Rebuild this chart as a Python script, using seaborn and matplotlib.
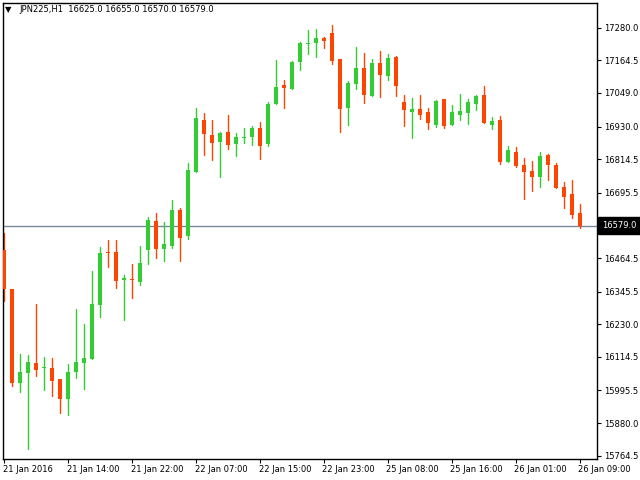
import numpy as np
import pandas as pd
import matplotlib
matplotlib.use("Agg")
import matplotlib.pyplot as plt
import matplotlib.transforms as mtransforms
import seaborn as sns

# ---- data (JPN225, H1) ----
opens = [16493, 16356, 16023, 16058, 16093, 16074, 16075, 16036, 15966, 16062,
         16094, 16108, 16299, 16486, 16486, 16388, 16391, 16381, 16494, 16596,
         16497, 16508, 16634, 16543, 16770, 16953, 16900, 16876, 16911, 16869,
         16890, 16894, 16925, 16869, 17011, 17077, 17064, 17160, 17223, 17227,
         17242, 17261, 17169, 16997, 17082, 17137, 17039, 17155, 17110, 17176,
         17017, 16983, 16992, 16982, 16937, 17028, 16937, 16972, 16979, 17011,
         17042, 16937, 16953, 16806, 16840, 16794, 16773, 16752, 16829, 16794,
         16716, 16691, 16625]
highs = [16554, 16356, 16125, 16121, 16302, 16114, 16110, 16036, 16089, 16284,
         16231, 16418, 16502, 16528, 16528, 16403, 16443, 16507, 16610, 16624,
         16592, 16670, 16640, 16800, 16996, 16978, 16953, 16911, 16971, 16907,
         16925, 16932, 16946, 17017, 17166, 17095, 17162, 17229, 17272, 17275,
         17246, 17290, 17169, 17091, 17212, 17190, 17169, 17198, 17188, 17180,
         17042, 17031, 17042, 16996, 17024, 17028, 17006, 17045, 17028, 17043,
         17075, 16964, 16967, 16861, 16858, 16819, 16808, 16840, 16833, 16801,
         16734, 16741, 16655]
lows = [16313, 16012, 15991, 15789, 16048, 15998, 15977, 15917, 15910, 16041,
        16002, 16108, 16257, 16434, 16359, 16245, 16324, 16370, 16444, 16466,
        16454, 16501, 16455, 16533, 16770, 16830, 16813, 16752, 16852, 16827,
        16873, 16866, 16816, 16862, 17011, 16997, 17064, 17131, 17188, 17177,
        17209, 17153, 16912, 16937, 17064, 17014, 17039, 17036, 17096, 17038,
        16933, 16890, 16958, 16922, 16929, 16926, 16937, 16954, 16940, 16990,
        16944, 16922, 16798, 16806, 16788, 16675, 16703, 16717, 16742, 16713,
        16643, 16607, 16570]
closes = [16356, 16023, 16061, 16096, 16069, 16076, 16030, 15966, 16061, 16096,
          16110, 16302, 16482, 16482, 16384, 16394, 16388, 16447, 16599, 16497,
          16514, 16634, 16536, 16776, 16960, 16905, 16873, 16907, 16866, 16893,
          16893, 16925, 16862, 17010, 17070, 17067, 17159, 17226, 17226, 17244,
          17234, 17163, 16993, 17084, 17137, 17043, 17155, 17114, 17173, 17075,
          16990, 16992, 16972, 16944, 17021, 16933, 16982, 16985, 17017, 17039,
          16944, 16950, 16806, 16847, 16791, 16770, 16752, 16826, 16795, 16713,
          16682, 16618, 16579]

time_tick_pos = [0, 8, 16, 24, 32, 40, 48, 56, 64, 72]
time_tick_labels = ["21 Jan 2016", "21 Jan 14:00", "21 Jan 22:00", "22 Jan 07:00",
                    "22 Jan 15:00", "22 Jan 23:00", "25 Jan 08:00", "25 Jan 16:00",
                    "26 Jan 01:00", "26 Jan 09:00"]
price_ticks = [17280.0, 17164.5, 17049.0, 16930.0, 16814.5, 16695.5, 16464.5,
               16345.5, 16230.0, 16114.5, 15995.5, 15880.0, 15764.5]
last_price = 16579.0
title_text = "JPN225,H1  16625.0 16655.0 16570.0 16579.0"

UP = "#32CD32"
DOWN = "#FF4500"

sns.set_theme(style="white")
plt.rcParams['font.family'] = ['DejaVu Sans']

df = pd.DataFrame({"bar": np.arange(len(opens)), "open": opens, "high": highs,
                   "low": lows, "close": closes})
df["dir"] = np.where(df["close"] >= df["open"], "up", "down")

wicks = pd.concat([
    df[["bar", "dir"]].assign(price=df["low"]),
    df[["bar", "dir"]].assign(price=df["high"]),
]).sort_values(["bar", "price"])

fig = plt.figure(figsize=(6.4, 4.8), dpi=100)
ax = fig.add_axes([2.5 / 640, 21 / 480, (596.7 - 2.5) / 640, (459 - 2.5) / 480])

sns.lineplot(data=wicks, x="bar", y="price", units="bar", estimator=None,
             hue="dir", palette={"up": UP, "down": DOWN}, sort=False,
             linewidth=1.0, legend=False, ax=ax)

body_bottom = np.minimum(df["open"], df["close"])
body_h = np.maximum(np.abs(df["close"] - df["open"]), 3.5)
colors = [UP if d == "up" else DOWN for d in df["dir"]]
ax.bar(df["bar"], body_h, bottom=body_bottom, width=0.62, color=colors,
       linewidth=0, zorder=3)

ax.axhline(last_price, color="#778899", linewidth=1.0, zorder=1)

ax.set_xlim(-0.19, 74.09)
ax.set_ylim(15752.8, 17369.2)

ax.set_xlabel("")
ax.set_ylabel("")
ax.yaxis.tick_right()
ax.set_yticks(price_ticks)
ax.set_yticklabels([f"{v:.1f}" for v in price_ticks])
ax.set_xticks(time_tick_pos)
ax.set_xticklabels(time_tick_labels, ha="left")
ax.tick_params(axis="both", which="both", direction="out", length=3,
               width=0.8, color="black", labelsize=6, labelcolor="black")
ax.tick_params(axis="x", pad=1.5, bottom=True)
ax.tick_params(axis="y", pad=2, right=True, left=False)
offset = mtransforms.ScaledTranslation(-1.5 / 100, 0, fig.dpi_scale_trans)
for lbl in ax.get_xticklabels():
    lbl.set_transform(lbl.get_transform() + offset)

for sp in ax.spines.values():
    sp.set_visible(True)
    sp.set_color("black")
    sp.set_linewidth(1.0)

# current price label
trans = mtransforms.blended_transform_factory(ax.transAxes, ax.transData)
lbl_off = mtransforms.ScaledTranslation(5.0 / 100, 0, fig.dpi_scale_trans)
ax.text(1.0, last_price, f"{last_price:.1f}", transform=trans + lbl_off,
        ha="left", va="center", fontsize=6, color="white", clip_on=False,
        bbox=dict(boxstyle="square,pad=0.45", facecolor="black", edgecolor="black"))

fig.text(5 / 640, 1 - 10 / 480, "▼", fontsize=6, color="black", va="center", ha="left")
fig.text(19 / 640, 1 - 10 / 480, title_text, fontsize=6, color="black",
         va="center", ha="left")

fig.savefig("out.png", dpi=100)
